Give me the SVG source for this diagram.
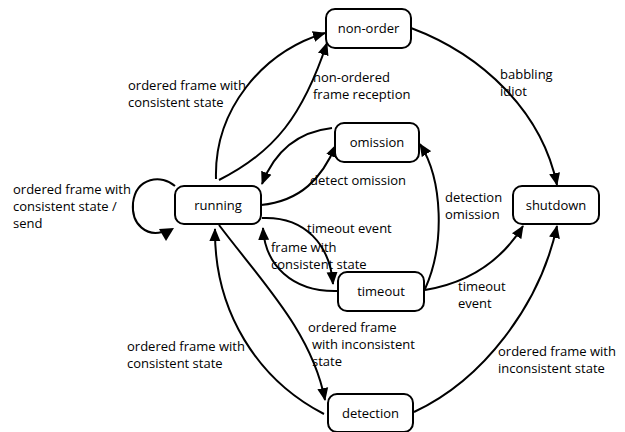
<svg xmlns="http://www.w3.org/2000/svg" width="625" height="432" viewBox="0 0 625 432">
<defs>
<style>
.node rect{fill:#fff;stroke:#000;stroke-width:2}
text{font-family:"Open Sans","DejaVu Sans",sans-serif;font-size:13px;fill:#000}
.nt{text-anchor:middle}
.edge{fill:none;stroke:#000;stroke-width:2}
</style>
<marker id="ah" markerUnits="userSpaceOnUse" markerWidth="14" markerHeight="12" refX="12" refY="6" orient="auto">
<path d="M0,0.5 L13,6 L0,11.5 Z" fill="#000"/>
</marker>
</defs>
<g id="connectors">
<path class="edge" d="M216,179 C214,110 262,52 325,33" marker-end="url(#ah)"/>
<path class="edge" d="M219,180 C275,152 303,115 327,43" marker-end="url(#ah)"/>
<path class="edge" d="M332,128 C297,132 274,153 262,184" marker-end="url(#ah)"/>
<path class="edge" d="M261,205 C301,201 322,178 336,145" marker-end="url(#ah)"/>
<path class="edge" d="M262,218 C305,216 330,245 333,284" marker-end="url(#ah)"/>
<path class="edge" d="M337,291 C292,292 265,265 263,228" marker-end="url(#ah)"/>
<path class="edge" d="M425,289 C445,245 443,180 420,144" marker-end="url(#ah)"/>
<path class="edge" d="M425,290 C467,283 500,263 523,226" marker-end="url(#ah)"/>
<path class="edge" d="M411,28 C483,55 542,112 557,185" marker-end="url(#ah)"/>
<path class="edge" d="M414,412 C483,380 540,305 557,226" marker-end="url(#ah)"/>
<path class="edge" d="M219,225 C262,282 312,332 325,400" marker-end="url(#ah)"/>
<path class="edge" d="M324,414 C258,380 214,312 215,229" marker-end="url(#ah)"/>
<path class="edge" d="M175,186 C162,174 136,177 133,203 C131,226 148,236 162,232"/>
<polygon points="159,229 174,228 166,241" fill="#000"/>
</g>
<g id="running" class="node"><rect x="175" y="186" width="86" height="38" rx="9"/><text class="nt" x="218" y="210">running</text></g>
<g id="non-order" class="node"><rect x="326" y="9" width="85" height="39" rx="9"/><text class="nt" x="368.5" y="33">non-order</text></g>
<g id="omission" class="node"><rect x="335" y="123" width="84" height="39" rx="9"/><text class="nt" x="377" y="147">omission</text></g>
<g id="shutdown" class="node"><rect x="513" y="186" width="86" height="38" rx="9"/><text class="nt" x="556" y="210">shutdown</text></g>
<g id="timeout" class="node"><rect x="338" y="272" width="86" height="39" rx="9"/><text class="nt" x="381" y="296">timeout</text></g>
<g id="detection" class="node"><rect x="328" y="394" width="85" height="38" rx="9"/><text class="nt" x="370.5" y="418">detection</text></g>
<g id="labels">
<text x="128" y="89.5">ordered frame with</text>
<text x="128" y="106.5">consistent state</text>
<text x="313" y="81.5">non-ordered</text>
<text x="313" y="98.5">frame reception</text>
<text x="500" y="78.5">babbling</text>
<text x="500" y="95.5">idiot</text>
<text x="13" y="193.5">ordered frame with</text>
<text x="13" y="210.5">consistent state /</text>
<text x="13" y="227.5">send</text>
<text x="310" y="184.5">detect omission</text>
<text x="445" y="202">detection</text>
<text x="445" y="219">omission</text>
<text x="307" y="232.5">timeout event</text>
<text x="271" y="251.5">frame with</text>
<text x="271" y="268.5">consistent state</text>
<text x="458" y="291">timeout</text>
<text x="458" y="308">event</text>
<text x="308" y="331.5">ordered frame</text>
<text x="312" y="348.5">with inconsistent</text>
<text x="312" y="365.5">state</text>
<text x="127" y="350.5">ordered frame with</text>
<text x="127" y="367.5">consistent state</text>
<text x="498" y="355.5">ordered frame with</text>
<text x="498" y="372.5">inconsistent state</text>
</g>
</svg>
